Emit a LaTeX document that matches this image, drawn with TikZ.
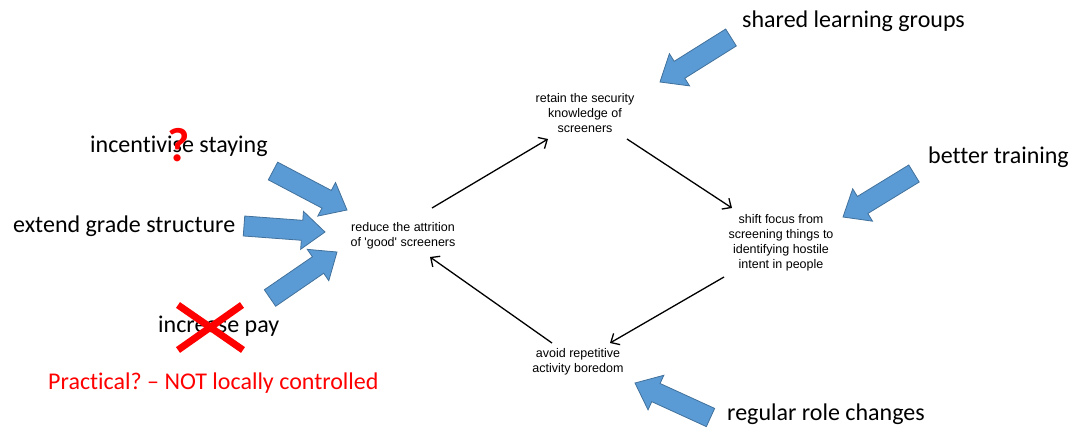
\documentclass[tikz,border=0pt]{standalone}
\usepackage{fontspec}
\setmainfont{Carlito}[Ligatures=NoCommon]
\newfontfamily\arialf{Liberation Sans}
\usetikzlibrary{calc,arrows.meta}
\definecolor{bafill}{HTML}{5B9BD5}
\definecolor{badraw}{HTML}{41719C}
\definecolor{myred}{HTML}{FF0000}
\frenchspacing
\tikzset{
  blockarr/.style={fill=bafill,draw=badraw,line width=0.8pt,line join=miter},
  smallnode/.style={align=center,inner sep=0pt,text=black,font=\arialf\fontsize{12.5}{15}\selectfont},
  biglabel/.style={anchor=base west,inner sep=0pt,font=\fontsize{24}{28}\selectfont},
  cyclearrow/.style={draw=black,line width=1.3pt,-{Straight Barb[length=7pt,width=13pt,line width=1.3pt]}},
  crossline/.style={draw=myred,line width=7pt}
}
\newcommand\blockarrow[2]{%
  \coordinate (ban) at ($(#2)!23pt!(#1)$);
  \filldraw[blockarr] ($(#1)!10pt!90:(#2)$) -- ($(ban)!10pt!90:(#2)$) -- ($(ban)!19pt!90:(#2)$) -- (#2) -- ($(ban)!19pt!-90:(#2)$) -- ($(ban)!10pt!-90:(#2)$) -- ($(#1)!10pt!-90:(#2)$) -- cycle;}
\begin{document}
\begin{tikzpicture}[x=1pt,y=-1pt]
\useasboundingbox[fill=white] (0,0) rectangle (1072,432);
% central nodes
\node[smallnode] (retain) at (585,113) {retain the security\\knowledge of\\screeners};
\node[smallnode] (reduce) at (403,236) {reduce the attrition\\of 'good' screeners};
\node[smallnode] (shift) at (781,243) {shift focus from\\screening things to\\identifying hostile\\intent in people};
\node[smallnode] (avoid) at (578,362) {avoid repetitive\\activity boredom};
% cycle connectors
\draw[cyclearrow] ([shift={(29,-28)}]reduce.center) -- ([shift={(-37,26)}]retain.center);
\draw[cyclearrow] ([shift={(42,26)}]retain.center) -- ([shift={(-49,-35)}]shift.center);
\draw[cyclearrow] ([shift={(-57,34)}]shift.center) -- ([shift={(32,-19)}]avoid.center);
\draw[cyclearrow] ([shift={(-26,-19)}]avoid.center) -- ([shift={(27,21)}]reduce.center);
% labels
\node[biglabel] (shared) at (742,27) {shared learning groups};
\node[biglabel] (better) at (928,163) {better training};
\node[biglabel] (regular) at (727,420) {regular role changes};
\node[biglabel] (incent) at (90,152) {incentivise staying};
\node[biglabel] (extend) at (13,232) {extend grade structure};
\node[biglabel] (pay) at (158,332) {increase pay};
\node[biglabel,text=myred] (practical) at (48,389) {Practical? – NOT locally controlled};
% block arrows
\coordinate (t1) at (731,37.5);   \coordinate (h1) at (660,82);
\coordinate (t2) at (914,173.5);  \coordinate (h2) at (843,217);
\coordinate (t3) at (710.5,417.5);\coordinate (h3) at (635,383);
\coordinate (t4) at (273,171);    \coordinate (h4) at (347,210);
\coordinate (t5) at (244,226);    \coordinate (h5) at (325,232);
\coordinate (t6) at (270,298);    \coordinate (h6) at (337,252);
\blockarrow{t1}{h1}
\blockarrow{t2}{h2}
\blockarrow{t3}{h3}
\blockarrow{t4}{h4}
\blockarrow{t5}{h5}
\blockarrow{t6}{h6}
% question mark and cross
\node[text=myred,inner sep=0pt,font=\bfseries\fontsize{48}{48}\selectfont] (qmark) at (179,145) {?};
\coordinate (x1) at (178,305); \coordinate (x2) at (243,350);
\coordinate (x3) at (242,305); \coordinate (x4) at (178,350);
\draw[crossline] (x1) -- (x2);
\draw[crossline] (x3) -- (x4);
\end{tikzpicture}
\end{document}
